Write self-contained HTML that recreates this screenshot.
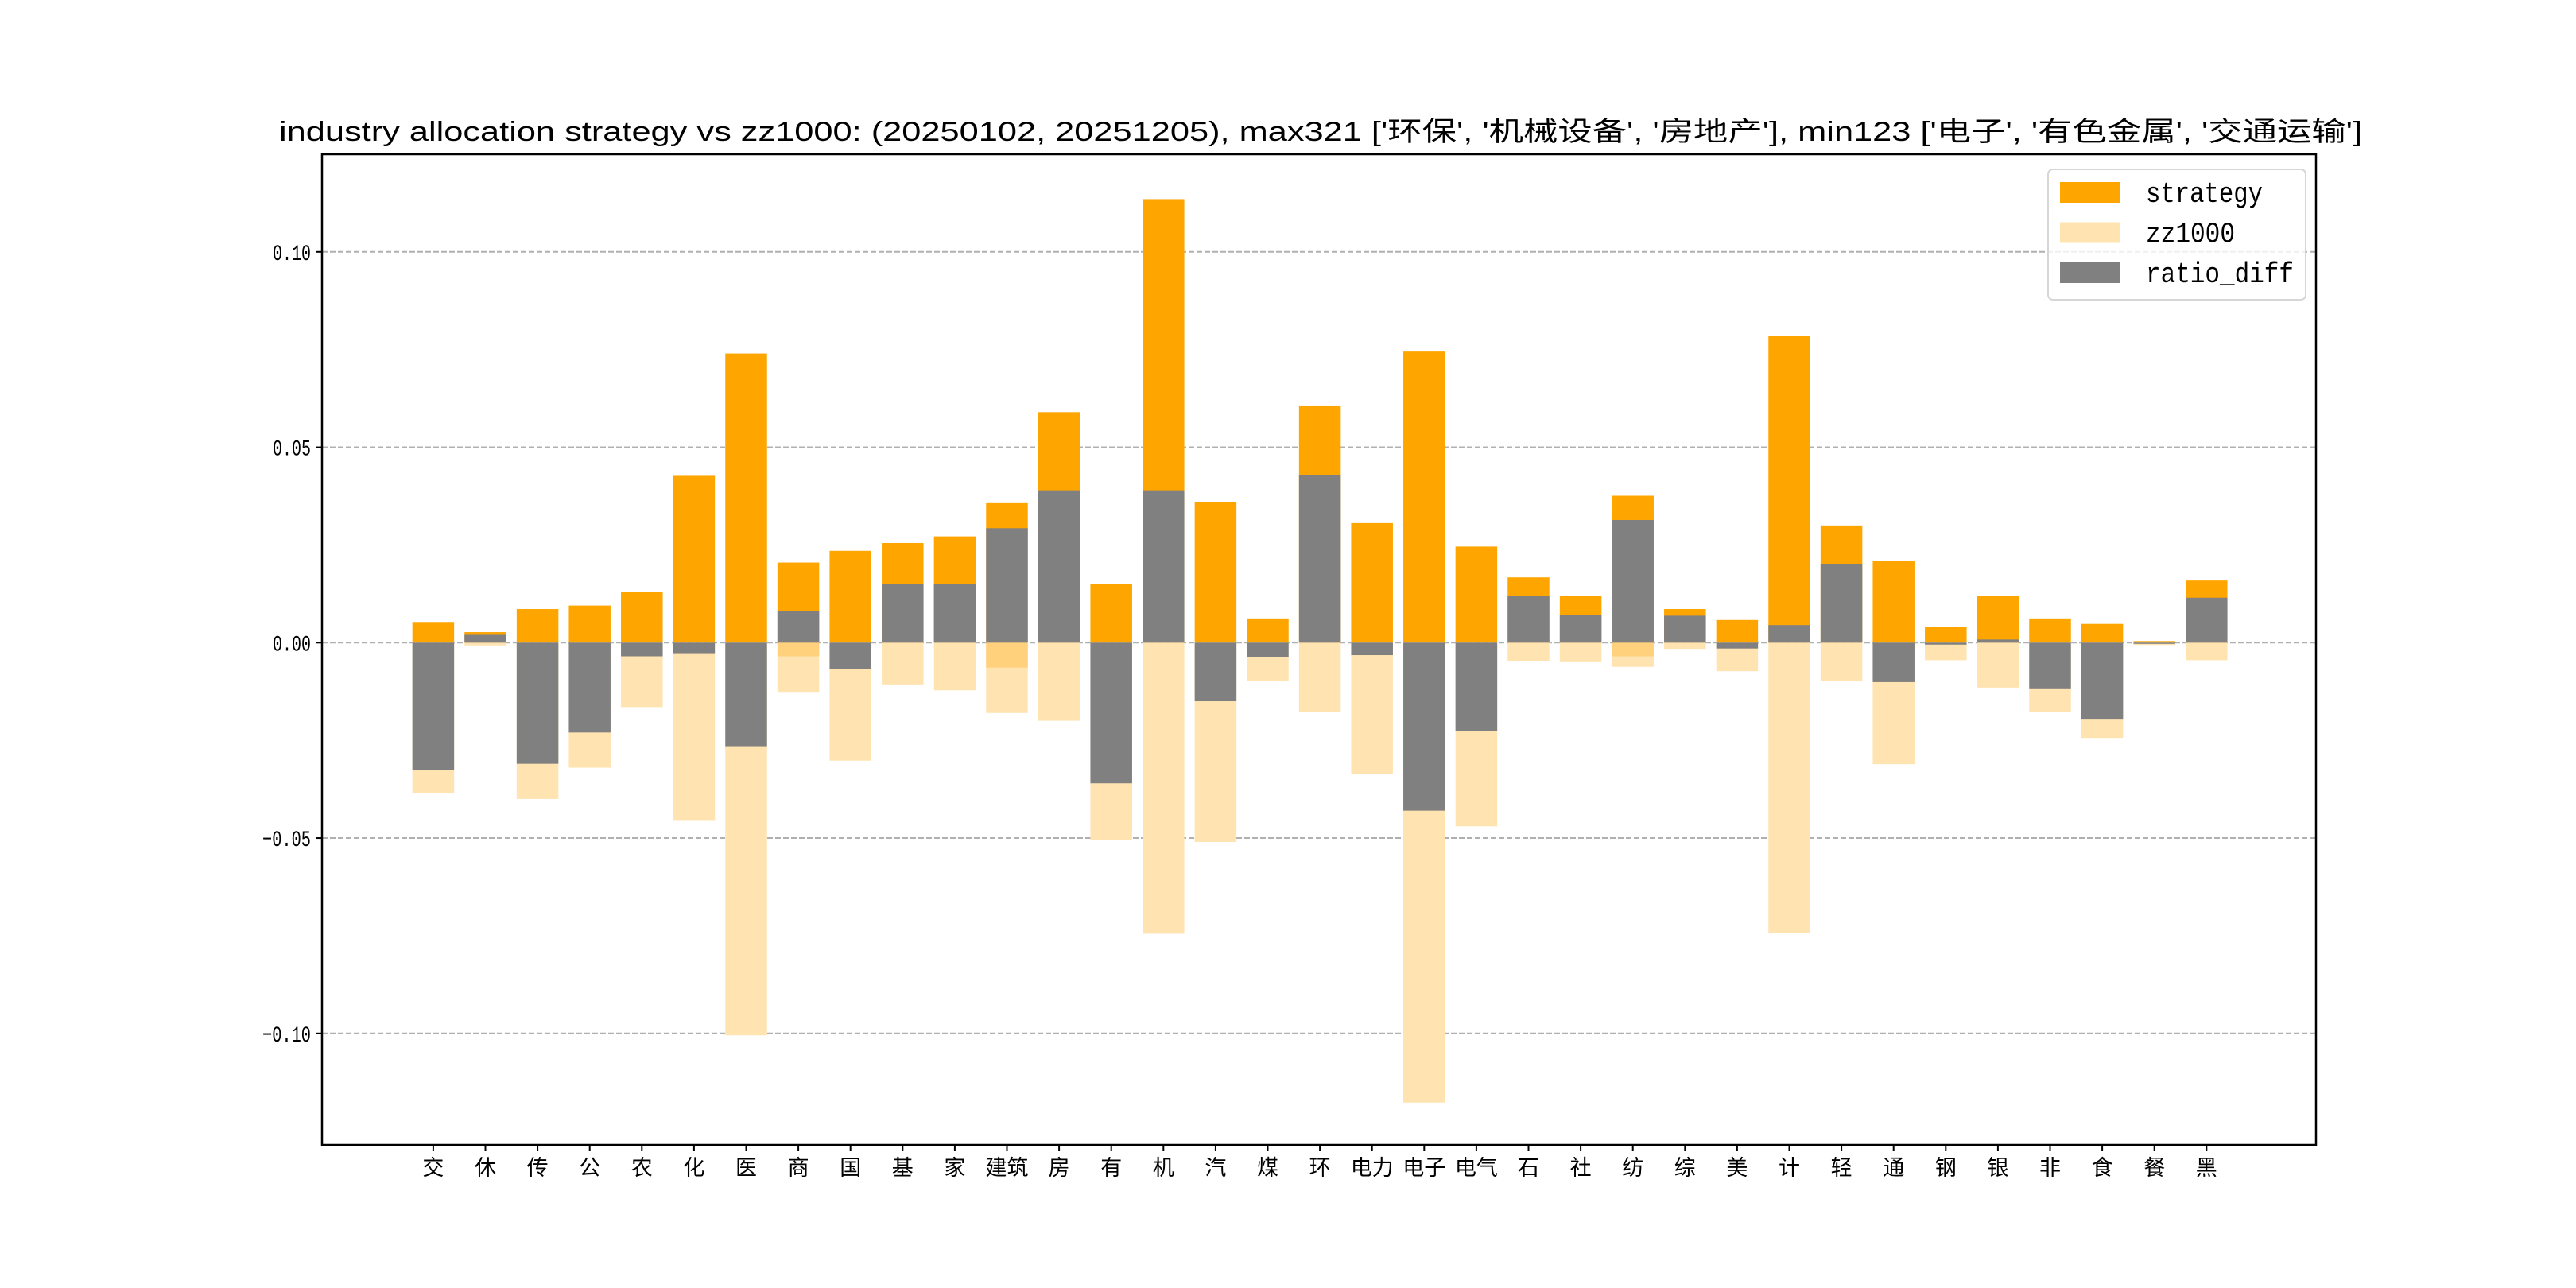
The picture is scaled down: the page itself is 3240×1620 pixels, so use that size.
<!DOCTYPE html>
<html><head><meta charset="utf-8"><style>
html,body{margin:0;padding:0;background:#fff;}
svg{display:block;font-family:"Liberation Sans","Noto Sans CJK SC",sans-serif;}
</style></head><body>
<svg id="chart" width="3240" height="1620" viewBox="0 0 3240 1620" xmlns="http://www.w3.org/2000/svg">
<rect width="3240" height="1620" fill="#fff"/>
<text x="1661" y="177" text-anchor="middle" font-size="34" textLength="2620" lengthAdjust="spacingAndGlyphs" fill="#000">industry allocation strategy vs zz1000: (20250102, 20251205), max321 ['环保', '机械设备', '房地产'], min123 ['电子', '有色金属', '交通运输']</text>
<g id="grid"></g>
<g id="bars"></g>
<g id="axes"></g>
<g id="legend"></g>
</svg>
<script>
const categories = ['交','休','传','公','农','化','医','商','国','基','家','建筑','房','有','机','汽','煤','环','电力','电子','电气','石','社','纺','综','美','计','轻','通','钢','银','非','食','餐','黑'];
const strategy = [0.0053,0.0027,0.0086,0.0095,0.013,0.0427,0.074,0.0205,0.0235,0.0255,0.0272,0.0357,0.059,0.015,0.1135,0.036,0.0062,0.0605,0.0306,0.0745,0.0246,0.0167,0.012,0.0376,0.0086,0.0058,0.0785,0.030,0.021,0.004,0.012,0.0062,0.0048,0.0004,0.0159];
const zz1000 = [-0.0386,-0.0007,-0.040,-0.032,-0.0165,-0.0454,-0.1005,-0.0128,-0.0302,-0.0107,-0.0122,-0.018,-0.020,-0.0505,-0.0745,-0.051,-0.0098,-0.0177,-0.0337,-0.1177,-0.047,-0.0048,-0.005,-0.0062,-0.0016,-0.0073,-0.0743,-0.0099,-0.0311,-0.0045,-0.0115,-0.0178,-0.0244,-0.0006,-0.0045];
const ratioDiff = [-0.0327,0.002,-0.031,-0.023,-0.0035,-0.0027,-0.0265,0.008,-0.0068,0.015,0.015,0.0293,0.039,-0.036,0.039,-0.015,-0.0036,0.0428,-0.0032,-0.043,-0.0226,0.012,0.007,0.0314,0.0069,-0.0015,0.0045,0.0202,-0.0101,-0.0005,0.0008,-0.0117,-0.0195,-0.0003,0.0115];
const overlap = [0,0,0,0,0,0,0,-0.0035,0,0,0,-0.0064,0,0,0,0,0,0,0,0,0,0,0,-0.0035,0,0,0,0,0,0,0,0,0,0,0];
const yTicks = [-0.10,-0.05,0.00,0.05,0.10];
const yTickLabels = ['−0.10','−0.05','0.00','0.05','0.10'];

const NS='http://www.w3.org/2000/svg';
const AX={l:405,r:2913,t:194,b:1440};
const Y0=808.3, PPU=4915;
function yScale(v){return Y0 - v*PPU;}
const X0=544.9, STEP=65.6, BW=52.5;
function xScale(i){return X0 + i*STEP;}
function mk(tag,attrs,parent){const e=document.createElementNS(NS,tag);for(const k in attrs)e.setAttribute(k,attrs[k]);parent.appendChild(e);return e;}

const grid=document.getElementById('grid');
const bars=document.getElementById('bars');
const axes=document.getElementById('axes');
const legend=document.getElementById('legend');

yTicks.forEach((v,i)=>{
  const y=yScale(v);
  const g=mk('line',{x1:AX.l,x2:AX.r,y1:y,y2:y,stroke:'#b0b0b0','stroke-width':2,'stroke-dasharray':'7,3'},grid);
  
  
  const t=mk('line',{x1:AX.l-8,x2:AX.l,y1:y,y2:y,stroke:'#000','stroke-width':2},axes);
  
  
  const neg=yTickLabels[i].startsWith('−');
  const lb=mk('text',{x:AX.l-14,y:y+10,'text-anchor':'end','font-size':28,fill:'#000','font-family':'Liberation Mono, monospace',textLength:neg?61:48,lengthAdjust:'spacingAndGlyphs'},axes);
  lb.textContent=yTickLabels[i];
  
  
});

function bar(i,v,color,name){
  const y1=yScale(Math.max(v,0)), y2=yScale(Math.min(v,0));
  const r=mk('rect',{x:xScale(i)-BW/2,y:y1,width:BW,height:Math.max(y2-y1,0.5),fill:color},bars);
  
  
}
categories.forEach((c,i)=>{
  bar(i,strategy[i],'#FFA500','strategy-bar');
  bar(i,zz1000[i],'#FFE4B2','zz1000-bar');
  if(overlap[i]!==0) bar(i,overlap[i],'#FFD17D','overlap-bar');
  bar(i,ratioDiff[i],'#808080','ratio-diff-bar');
  const x=xScale(i);
  const t=mk('line',{x1:x,x2:x,y1:AX.b,y2:AX.b+8,stroke:'#000','stroke-width':2},axes);
  
  
  const lb=mk('text',{x:x,y:AX.b+38,'text-anchor':'middle','font-size':27,fill:'#000'},axes);
  lb.textContent=c;
  
  
});

const frame=mk('rect',{x:AX.l,y:AX.t,width:AX.r-AX.l,height:AX.b-AX.t,fill:'none',stroke:'#000','stroke-width':2.5},axes);



const lbox=mk('rect',{x:2576,y:213,width:324,height:164,rx:6,fill:'#fff','fill-opacity':0.8,stroke:'#d6d6d6','stroke-width':2},legend);


const leg=[['strategy','#FFA500',147],['zz1000','#FFE4B2',112],['ratio_diff','#808080',186]];
leg.forEach((e,i)=>{
  const y=229+i*50.5;
  const p=mk('rect',{x:2591,y:y,width:76,height:26,fill:e[1]},legend);
  
  
  const t=mk('text',{x:2699,y:y+25,'font-size':36,fill:'#000','font-family':'Liberation Mono, monospace',textLength:e[2],lengthAdjust:'spacingAndGlyphs'},legend);
  t.textContent=e[0];
  
  
});
</script>
</body></html>
